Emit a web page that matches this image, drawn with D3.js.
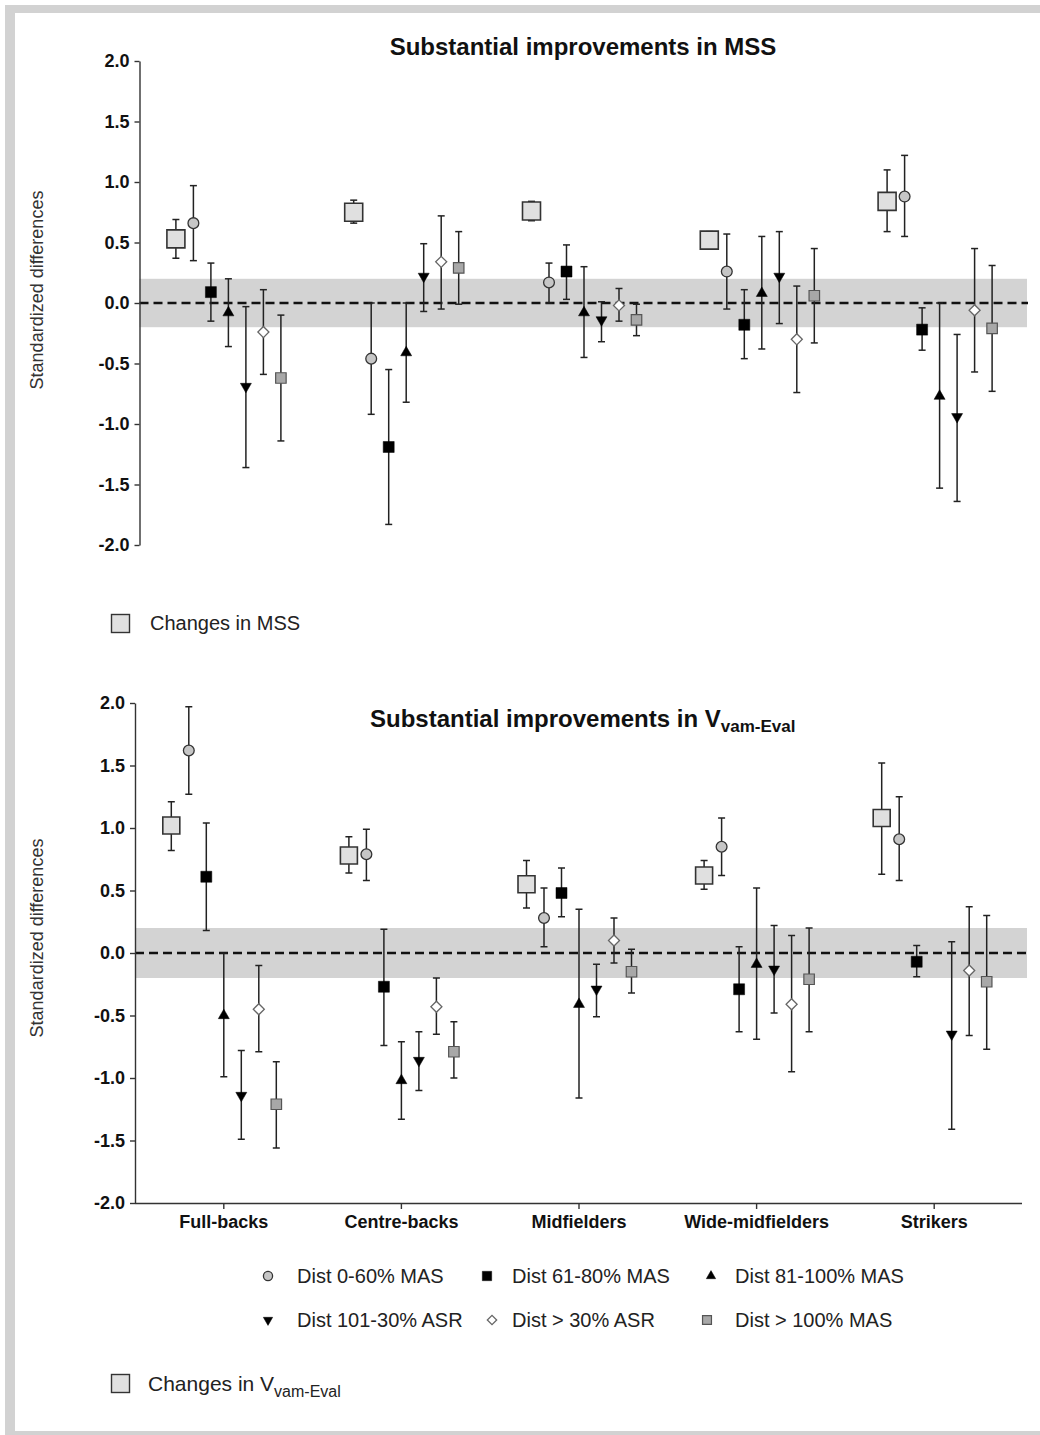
<!DOCTYPE html>
<html><head><meta charset="utf-8">
<script src="https://cdn.jsdelivr.net/npm/d3@7/dist/d3.min.js"></script>
<style>
html,body{margin:0;padding:0;background:#fff;}
svg text{font-family:"Liberation Sans",Arial,sans-serif;}
</style></head>
<body><svg id="c" width="1040" height="1435"></svg>
<script>
const categories = ["Full-backs","Centre-backs","Midfielders","Wide-midfielders","Strikers"];
const seriesNames = ["Changes","Dist 0-60% MAS","Dist 61-80% MAS","Dist 81-100% MAS","Dist 101-30% ASR","Dist > 30% ASR","Dist > 100% MAS"];
const yTicks = [-2,-1.5,-1,-0.5,0,0.5,1,1.5,2];

// [mean, lower, upper] per category
const mssChanges = [[0.53,0.37,0.69],[0.75,0.66,0.85],[0.76,0.68,0.84],[0.52,0.45,0.59],[0.84,0.59,1.10]];
const mssDist0_60 = [[0.66,0.35,0.97],[-0.46,-0.92,0.00],[0.17,0.00,0.33],[0.26,-0.05,0.57],[0.88,0.55,1.22]];
const mssDist61_80 = [[0.09,-0.15,0.33],[-1.19,-1.83,-0.55],[0.26,0.03,0.48],[-0.18,-0.46,0.11],[-0.22,-0.39,-0.04]];
const mssDist81_100 = [[-0.08,-0.36,0.20],[-0.41,-0.82,0.00],[-0.08,-0.45,0.30],[0.08,-0.38,0.55],[-0.77,-1.53,0.00]];
const mssDist101_30ASR = [[-0.69,-1.36,-0.03],[0.22,-0.07,0.49],[-0.14,-0.32,0.01],[0.22,-0.17,0.59],[-0.94,-1.64,-0.26]];
const mssDistGt30ASR = [[-0.24,-0.59,0.11],[0.34,-0.05,0.72],[-0.02,-0.15,0.12],[-0.30,-0.74,0.14],[-0.06,-0.57,0.45]];
const mssDistGt100MAS = [[-0.62,-1.14,-0.10],[0.29,-0.01,0.59],[-0.14,-0.27,-0.01],[0.06,-0.33,0.45],[-0.21,-0.73,0.31]];

const vamChanges = [[1.02,0.82,1.21],[0.78,0.64,0.93],[0.55,0.36,0.74],[0.62,0.51,0.74],[1.08,0.63,1.52]];
const vamDist0_60 = [[1.62,1.27,1.97],[0.79,0.58,0.99],[0.28,0.05,0.52],[0.85,0.62,1.08],[0.91,0.58,1.25]];
const vamDist61_80 = [[0.61,0.18,1.04],[-0.27,-0.74,0.19],[0.48,0.29,0.68],[-0.29,-0.63,0.05],[-0.07,-0.19,0.06]];
const vamDist81_100 = [[-0.50,-0.99,0.00],[-1.02,-1.33,-0.71],[-0.41,-1.16,0.35],[-0.09,-0.69,0.52],null];
const vamDist101_30ASR = [[-1.14,-1.49,-0.78],[-0.86,-1.10,-0.63],[-0.29,-0.51,-0.09],[-0.13,-0.48,0.22],[-0.65,-1.41,0.09]];
const vamDistGt30ASR = [[-0.45,-0.79,-0.10],[-0.43,-0.65,-0.20],[0.10,-0.08,0.28],[-0.41,-0.95,0.14],[-0.14,-0.66,0.37]];
const vamDistGt100MAS = [[-1.21,-1.56,-0.87],[-0.79,-1.00,-0.55],[-0.15,-0.32,0.03],[-0.21,-0.63,0.20],[-0.23,-0.77,0.30]];

const svg = d3.select("#c");

// frame
svg.append("rect").attr("x",5).attr("y",5).attr("width",10).attr("height",1430).attr("fill","#d2d2d2");
svg.append("rect").attr("x",5).attr("y",5).attr("width",1035).attr("height",8).attr("fill","#d2d2d2");
svg.append("rect").attr("x",5).attr("y",1431).attr("width",1035).attr("height",4).attr("fill","#d2d2d2");

const styles = [
  {type:d3.symbolSquare, big:true, fill:"#e0e0e0", stroke:"#333", sw:1.6},
  {type:d3.symbolCircle, r:5.4, fill:"#c6c6c6", stroke:"#333", sw:1.3},
  {type:d3.symbolSquare, s:11, fill:"#000", stroke:"#000", sw:0.5},
  {type:d3.symbolTriangle, t:11, fill:"#000", stroke:"#000", sw:0.5},
  {type:d3.symbolTriangle, t:11, rot:180, fill:"#000", stroke:"#000", sw:0.5},
  {type:d3.symbolSquare, s:7.8, rot:45, fill:"#fff", stroke:"#666", sw:1.3},
  {type:d3.symbolSquare, s:10.5, fill:"#a8a8a8", stroke:"#555", sw:1.2}
];
function symPath(st, scale, bigSize){
  let area;
  if (st.type===d3.symbolCircle) area = Math.PI*Math.pow(st.r*scale,2);
  else if (st.type===d3.symbolTriangle) area = Math.sqrt(3)/4*Math.pow(st.t*scale,2);
  else area = Math.pow((st.big?bigSize:st.s)*scale,2);
  return d3.symbol().type(st.type).size(area)();
}

function panel(cfg){
  const g = svg.append("g");
  const y = d3.scaleLinear().domain([-2,2]).range([cfg.y0, cfg.y1]);
  const x = d3.scaleBand().domain(categories).range([cfg.x0, cfg.x1]);
  const off = d3.scalePoint().domain(seriesNames).range([-52.5,52.5]);

  // band
  g.append("rect").attr("x",cfg.x0).attr("width",1027-cfg.x0)
    .attr("y",y(0.2)).attr("height",y(-0.2)-y(0.2)).attr("fill","#d3d3d3");
  g.append("line").attr("x1",cfg.x0).attr("x2",1028).attr("y1",y(0)).attr("y2",y(0))
    .attr("stroke","#111").attr("stroke-width",2.6).attr("stroke-dasharray","9,5");

  // y axis
  const ya = g.append("g").attr("transform",`translate(${cfg.x0},0)`)
    .call(d3.axisLeft(y).tickValues(yTicks).tickFormat(d=>d.toFixed(1)).tickSize(5).tickSizeOuter(0).tickPadding(5));
  ya.selectAll("path,line").attr("stroke","#333").attr("stroke-width",1.4);
  ya.selectAll("text").attr("font-size",18).attr("font-weight","bold").attr("fill","#111")
    .attr("font-family","'Liberation Sans',Arial,sans-serif");

  if (cfg.xAxis){
    const xa = g.append("g").attr("transform",`translate(0,${cfg.y0})`)
      .call(d3.axisBottom(x).tickSize(6).tickSizeOuter(0).tickPadding(6));
    xa.select("path").attr("d",`M${cfg.x0},0.5H${cfg.x1-1}`);
    xa.selectAll("path,line").attr("stroke","#333").attr("stroke-width",1.4);
    xa.selectAll("text").attr("font-size",18).attr("font-weight","bold").attr("fill","#111")
      .attr("font-family","'Liberation Sans',Arial,sans-serif");
  }

  // y title
  g.append("text").attr("transform",`translate(43,${cfg.ytitle}) rotate(-90)`)
    .attr("text-anchor","middle").attr("font-size",18).attr("fill","#333").text("Standardized differences");

  // points
  cfg.data.forEach((arr, si) => {
    const st = styles[si];
    arr.forEach((v, ci) => {
      if (!v) return;
      const cx = x(categories[ci]) + x.bandwidth()/2 + off(seriesNames[si]);
      const [m, lo, hi] = v;
      const eg = g.append("g").attr("stroke","#222").attr("stroke-width",1.5);
      eg.append("line").attr("x1",cx).attr("x2",cx).attr("y1",y(lo)).attr("y2",y(hi));
      eg.append("line").attr("x1",cx-3.5).attr("x2",cx+3.5).attr("y1",y(lo)).attr("y2",y(lo));
      eg.append("line").attr("x1",cx-3.5).attr("x2",cx+3.5).attr("y1",y(hi)).attr("y2",y(hi));
    });
  });
  cfg.data.forEach((arr, si) => {
    const st = styles[si];
    arr.forEach((v, ci) => {
      if (!v) return;
      const cx = x(categories[ci]) + x.bandwidth()/2 + off(seriesNames[si]);
      g.append("path").attr("d", symPath(st,1,cfg.big))
        .attr("transform",`translate(${cx},${y(v[0])}) rotate(${st.rot||0})`)
        .attr("fill",st.fill).attr("stroke",st.stroke).attr("stroke-width",st.sw);
    });
  });
}

panel({x0:139.5, x1:1028.5, y0:545, y1:61, big:18, xAxis:false, ytitle:290,
  data:[mssChanges,mssDist0_60,mssDist61_80,mssDist81_100,mssDist101_30ASR,mssDistGt30ASR,mssDistGt100MAS]});
panel({x0:135, x1:1023, y0:1203, y1:703, big:17, xAxis:true, ytitle:938,
  data:[vamChanges,vamDist0_60,vamDist61_80,vamDist81_100,vamDist101_30ASR,vamDistGt30ASR,vamDistGt100MAS]});

// titles
svg.append("text").attr("x",583).attr("y",55).attr("text-anchor","middle")
  .attr("font-size",24).attr("font-weight","bold").attr("fill","#111").text("Substantial improvements in MSS");
const t2 = svg.append("text").attr("x",370).attr("y",727)
  .attr("font-size",24).attr("font-weight","bold").attr("fill","#111");
t2.append("tspan").text("Substantial improvements in V");
t2.append("tspan").attr("font-size",17).attr("dy",5).text("vam-Eval");

// legend: Changes
function changeSq(yTop){
  svg.append("rect").attr("x",111.5).attr("y",yTop).attr("width",18).attr("height",18)
    .attr("fill","#e0e0e0").attr("stroke","#333").attr("stroke-width",1.4);
}
changeSq(614.5);
svg.append("text").attr("x",150).attr("y",630).attr("font-size",20).attr("fill","#222").text("Changes in MSS");
changeSq(1374.5);
const t3 = svg.append("text").attr("x",148).attr("y",1391).attr("font-size",20).attr("fill","#222");
t3.append("tspan").attr("font-size",21).text("Changes in V");
t3.append("tspan").attr("font-size",16).attr("dy",6).text("vam-Eval");

// legend series
const legendLabels = seriesNames.slice(1);
const legPos = [[268,297,1276],[487,512,1276],[711,735,1276],[268,297,1320],[492,512,1320],[707,735,1320]];
legendLabels.forEach((lab,i)=>{
  const st = styles[i+1];
  const [mx,tx,ly] = legPos[i];
  svg.append("path").attr("d", symPath(st,0.85,0))
    .attr("transform",`translate(${mx},${ly}) rotate(${st.rot||0})`)
    .attr("fill",st.fill).attr("stroke",st.stroke).attr("stroke-width",st.sw);
  svg.append("text").attr("x",tx).attr("y",ly+7).attr("font-size",20).attr("fill","#222").text(lab);
});
</script></body></html>
